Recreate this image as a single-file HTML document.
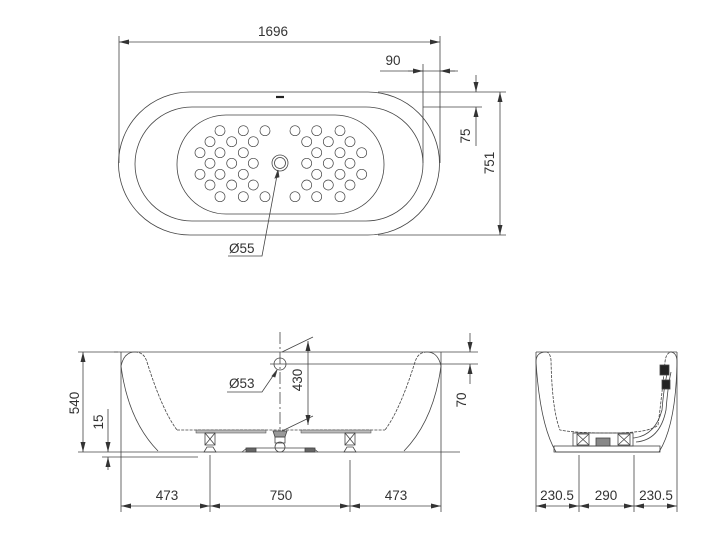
<!DOCTYPE html>
<html><head><meta charset="utf-8"><style>
html,body{margin:0;padding:0;background:#fff;}
svg{display:block;}
text{font-family:"Liberation Sans",sans-serif;font-size:13.5px;fill:#333;}
</style></head><body>
<svg width="723" height="557" viewBox="0 0 723 557" xmlns="http://www.w3.org/2000/svg">
<defs>
<marker id="a" viewBox="0 0 10 6" refX="10" refY="3" markerWidth="10" markerHeight="6" orient="auto-start-reverse" markerUnits="userSpaceOnUse"><path d="M0,0.5 L10,3 L0,5.5 z" fill="#333"/></marker>
</defs>
<g fill="none" stroke="#444" stroke-width="0.8">
<!-- TOP VIEW -->
<path d="M190,92 H368 A71.5,71.5 0 0 1 368,235 H190 A71.5,71.5 0 0 1 190,92 Z"/>
<rect x="135" y="107" width="288" height="114" rx="57" ry="57"/>
<rect x="177" y="115" width="207" height="99" rx="49" ry="49"/>
<line x1="276" y1="97" x2="284" y2="97" stroke-width="2.2" stroke="#222"/>
<circle cx="280" cy="163" r="8"/><circle cx="280" cy="163" r="5.5"/>
<g stroke-width="0.7">
<circle cx="220" cy="130.7" r="5"/><circle cx="243.3" cy="130.7" r="5"/><circle cx="265" cy="130.7" r="5"/>
<circle cx="210" cy="141.7" r="5"/><circle cx="231.7" cy="141.7" r="5"/><circle cx="253.3" cy="141.7" r="5"/>
<circle cx="200" cy="152.7" r="5"/><circle cx="220" cy="152.7" r="5"/><circle cx="243.3" cy="152.7" r="5"/>
<circle cx="210" cy="163.3" r="5"/><circle cx="231.7" cy="163.3" r="5"/><circle cx="253.3" cy="163.3" r="5"/>
<circle cx="200" cy="174.3" r="5"/><circle cx="220" cy="174.3" r="5"/><circle cx="243.3" cy="174.3" r="5"/>
<circle cx="210" cy="185" r="5"/><circle cx="231.7" cy="185" r="5"/><circle cx="253.3" cy="185" r="5"/>
<circle cx="220" cy="196.7" r="5"/><circle cx="243.3" cy="196.7" r="5"/><circle cx="265" cy="196.7" r="5"/>
<circle cx="295" cy="130.7" r="5"/><circle cx="316.7" cy="130.7" r="5"/><circle cx="340" cy="130.7" r="5"/>
<circle cx="306.7" cy="141.7" r="5"/><circle cx="328.3" cy="141.7" r="5"/><circle cx="350" cy="141.7" r="5"/>
<circle cx="316.7" cy="152.7" r="5"/><circle cx="340" cy="152.7" r="5"/><circle cx="361.7" cy="152.7" r="5"/>
<circle cx="306.7" cy="163.3" r="5"/><circle cx="328.3" cy="163.3" r="5"/><circle cx="350" cy="163.3" r="5"/>
<circle cx="316.7" cy="174.3" r="5"/><circle cx="340" cy="174.3" r="5"/><circle cx="361.7" cy="174.3" r="5"/>
<circle cx="306.7" cy="185" r="5"/><circle cx="328.3" cy="185" r="5"/><circle cx="350" cy="185" r="5"/>
<circle cx="295" cy="196.7" r="5"/><circle cx="316.7" cy="196.7" r="5"/><circle cx="340" cy="196.7" r="5"/>
</g>
<!-- top dims -->
<line x1="119" y1="36" x2="119" y2="163"/>
<line x1="440" y1="36" x2="440" y2="163"/>
<line x1="119" y1="42" x2="440" y2="42" marker-start="url(#a)" marker-end="url(#a)"/>
<line x1="423" y1="64" x2="423" y2="163"/>
<line x1="380" y1="71" x2="458" y2="71"/>
<line x1="408" y1="71" x2="423" y2="71" marker-end="url(#a)"/>
<line x1="455" y1="71" x2="440" y2="71" marker-end="url(#a)"/>
<line x1="378" y1="92" x2="506" y2="92"/>
<line x1="423" y1="107" x2="482" y2="107"/>
<line x1="476" y1="75" x2="476" y2="92" marker-end="url(#a)"/>
<line x1="476" y1="146" x2="476" y2="107" marker-end="url(#a)"/>
<line x1="378" y1="235" x2="506" y2="235"/>
<line x1="500" y1="92" x2="500" y2="235" marker-start="url(#a)" marker-end="url(#a)"/>
<polyline points="228,256 262,256 278,170"/>
<path d="M278,170 l-3,8 l4,-1 z" fill="#333"/>

<!-- FRONT VIEW -->
<line x1="114" y1="352" x2="478" y2="352"/>
<path d="M121,366 Q124,352 135,352"/>
<path d="M121,366 Q128,420 158,451"/>
<path d="M135,352 Q144,352 147,362 Q162,410 177,430" stroke-dasharray="3,1.2"/>
<path d="M441,366 Q438,352 427,352"/>
<path d="M441,366 Q434,420 404,451"/>
<path d="M427,352 Q418,352 415,362 Q400,410 385,430" stroke-dasharray="3,1.2"/>
<line x1="177" y1="430" x2="385" y2="430" stroke-dasharray="3,1.2"/>
<rect x="196" y="430" width="70" height="3" fill="#bbb" stroke-width="0.5"/>
<rect x="301" y="430" width="70" height="3" fill="#bbb" stroke-width="0.5"/>
<line x1="100" y1="452" x2="200" y2="452"/>
<line x1="200" y1="452" x2="460" y2="452"/>
<!-- legs -->
<rect x="205" y="433" width="10" height="12"/><path d="M205,433 L215,445 M215,433 L205,445"/>
<path d="M204,452 L216,452 L213,447 L207,447 Z"/>
<rect x="345" y="433" width="10" height="12"/><path d="M345,433 L355,445 M355,433 L345,445"/>
<path d="M344,452 L356,452 L353,447 L347,447 Z"/>
<!-- drain -->
<path d="M273,431 L287,431 L285,437 L275,437 Z" fill="#999"/>
<rect x="275" y="437" width="10" height="6"/>
<circle cx="280" cy="447" r="5"/>
<path d="M242,452 L247,448 L313,448 L318,452" />
<rect x="246" y="448" width="10" height="4" fill="#666"/>
<rect x="305" y="448" width="10" height="4" fill="#666"/>
<!-- centerline & overflow -->
<line x1="280" y1="332" x2="280" y2="430" stroke-dasharray="12,3,2,3"/>
<circle cx="280" cy="364" r="6"/>
<line x1="270" y1="364" x2="290" y2="364"/>
<line x1="290" y1="364" x2="478" y2="364"/>
<line x1="282" y1="352" x2="313" y2="337"/>
<line x1="282" y1="431" x2="313" y2="416"/>
<line x1="308" y1="384" x2="308" y2="341" marker-end="url(#a)"/>
<line x1="308" y1="384" x2="308" y2="425" marker-end="url(#a)"/>
<polyline points="227,392 262,392 277,370"/>
<path d="M277,370 l-5,6 l3,1 z" fill="#333"/>
<line x1="470" y1="333" x2="470" y2="352" marker-end="url(#a)"/>
<line x1="470" y1="384" x2="470" y2="364" marker-end="url(#a)"/>
<line x1="78" y1="352" x2="118" y2="352"/>
<line x1="83" y1="352" x2="83" y2="452" marker-start="url(#a)" marker-end="url(#a)"/>
<line x1="78" y1="452" x2="100" y2="452"/>
<line x1="102" y1="457" x2="198" y2="457"/>
<line x1="108" y1="409" x2="108" y2="452" marker-end="url(#a)"/>
<line x1="108" y1="470" x2="108" y2="457" marker-end="url(#a)"/>
<line x1="121" y1="352" x2="121" y2="512"/>
<line x1="441" y1="352" x2="441" y2="512"/>
<line x1="210" y1="455" x2="210" y2="512"/>
<line x1="350" y1="460" x2="350" y2="512"/>
<line x1="121" y1="506" x2="210" y2="506" marker-start="url(#a)" marker-end="url(#a)"/>
<line x1="210" y1="506" x2="350" y2="506" marker-start="url(#a)" marker-end="url(#a)"/>
<line x1="350" y1="506" x2="441" y2="506" marker-start="url(#a)" marker-end="url(#a)"/>

<!-- SIDE VIEW -->
<line x1="536" y1="352" x2="677" y2="352"/>
<path d="M536,362 Q536,352 546,352"/>
<path d="M536,362 Q540,425 556,452"/>
<path d="M546,352 Q550,352 551,360 Q552,410 560,430 Q575,433 610,433 Q650,433 658,425 Q662,395 665,362 Q666,352 672,352" stroke-dasharray="3,1.2"/>
<path d="M677,362 Q677,352 670,352"/>
<path d="M677,362 Q676,425 659,452"/>
<path d="M556,452 L660,452"/>
<rect x="554" y="446" width="106" height="6"/>
<rect x="573" y="433" width="60" height="13"/>
<path d="M577,434 L589,445 M589,434 L577,445 M618,434 L630,445 M630,434 L618,445"/>
<rect x="577" y="434" width="12" height="11"/><rect x="618" y="434" width="12" height="11"/>
<rect x="596" y="438" width="14" height="8" fill="#888"/>
<path d="M633,438 Q655,436 662,410 Q664,385 668,370"/>
<path d="M636,442 Q660,440 666,410 Q668,385 671,372"/>
<rect x="660" y="365" width="9" height="10" fill="#222"/>
<rect x="662" y="380" width="8" height="9" fill="#222"/>
<line x1="536" y1="352" x2="536" y2="512"/>
<line x1="677" y1="352" x2="677" y2="512"/>
<line x1="579" y1="455" x2="579" y2="512"/>
<line x1="634" y1="455" x2="634" y2="512"/>
<line x1="536" y1="506" x2="579" y2="506" marker-start="url(#a)" marker-end="url(#a)"/>
<line x1="579" y1="506" x2="634" y2="506" marker-start="url(#a)" marker-end="url(#a)"/>
<line x1="634" y1="506" x2="677" y2="506" marker-start="url(#a)" marker-end="url(#a)"/>
</g>
<text x="273" y="36" text-anchor="middle">1696</text>
<text x="393" y="65" text-anchor="middle">90</text>
<text transform="translate(470,136) rotate(-90)" text-anchor="middle">75</text>
<text transform="translate(494,163) rotate(-90)" text-anchor="middle">751</text>
<text x="229" y="253">Ø55</text>
<text x="229" y="388">Ø53</text>
<text transform="translate(302,380) rotate(-90)" text-anchor="middle">430</text>
<text transform="translate(466,400) rotate(-90)" text-anchor="middle">70</text>
<text transform="translate(79,403) rotate(-90)" text-anchor="middle">540</text>
<text transform="translate(103,422) rotate(-90)" text-anchor="middle">15</text>
<text x="167" y="500" text-anchor="middle">473</text>
<text x="281" y="500" text-anchor="middle">750</text>
<text x="396" y="500" text-anchor="middle">473</text>
<text x="557" y="500" text-anchor="middle">230.5</text>
<text x="606" y="500" text-anchor="middle">290</text>
<text x="656" y="500" text-anchor="middle">230.5</text>
</svg>
</body></html>
